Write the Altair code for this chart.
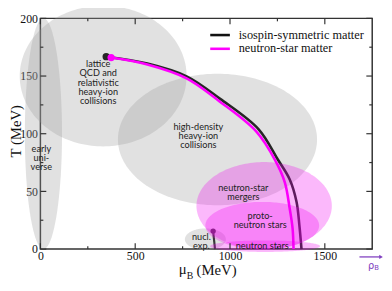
import numpy as np
import pandas as pd
import altair as alt

# ---------------- data ----------------
x_major = [0, 500, 1000, 1500]
x_minor = [250, 750, 1250]
y_major = [0, 50, 100, 150, 200]
y_minor = [25, 75, 125, 175]

# transition lines (mu_B in MeV, T in MeV)
iso_mu = [347, 564, 771, 950, 1150, 1253, 1315, 1351, 1366, 1377]
iso_T = [166.8, 160.9, 149.8, 130.0, 104.0, 77.4, 60.4, 40.9, 20.4, 0]
ns_mu = [373, 564, 771, 945, 1138, 1237, 1289, 1315, 1330, 1335]
ns_T = [166.0, 160.0, 148.0, 128.0, 102.0, 77.4, 57.9, 34.9, 17.9, 0]

crit_mu = [347, 373]
crit_T = [166.8, 166.0]

nucl_mu = [911, 921]
nucl_T = [15.6, 0]

# regions (ellipses): centre and half-axes in data units
gray_names = ["early", "lattice", "highdens", "nuclexp"]
gray_cx = [16, 331, 934, 870]
gray_cy = [100, 150, 95, 8.5]
gray_rx = [98, 440, 525, 108]
gray_ry = [100, 61, 57, 9.4]

pink_names = ["mergers", "proto", "nstars"]
pink_cx = [1180, 1170, 1185]
pink_cy = [37.4, 20.4, 2.5]
pink_rx = [357, 300, 290]
pink_ry = [38, 20.5, 5]

label_text = ["lattice\nQCD and\nrelativistic\nheavy-ion\ncollisions",
              "high-density\nheavy-ion\ncollisions",
              "early\nuni-\nverse",
              "neutron-star\nmergers",
              "proto-\nneutron stars",
              "neutron stars",
              "nucl.\nexp."]
label_mu = [305, 833, 5, 1070, 1159, 1170, 849]
label_T = [160.0, 105.5, 86.8, 52.8, 28.9, 2.6, 10.2]

legend_labels = ["isospin-symmetric matter", "neutron-star matter"]

# ---------------- helpers ----------------
W, H = 338, 235
xs = alt.Scale(domain=[0, 1750], nice=False, zero=False)
ys = alt.Scale(domain=[0, 200], nice=False, zero=False)
xax = alt.Axis(values=x_major, title=None, grid=False, domain=False, ticks=False,
               tickSize=0, labelPadding=2, labelFlush=False, format="d")
yax = alt.Axis(values=y_major, title=None, grid=False, domain=False, ticks=False,
               tickSize=0, labelPadding=3, format="d")


def X(f):
    return alt.X(f, type="quantitative", scale=xs, axis=xax)


def Y(f):
    return alt.Y(f, type="quantitative", scale=ys, axis=yax)


def ellipses(names, cx, cy, rx, ry):
    t = np.linspace(0, np.pi, 91)
    rows = []
    for n, a, b, c, d in zip(names, cx, cy, rx, ry):
        for tt in t:
            rows.append({"name": n, "x": a + c * np.cos(tt),
                         "lo": b - d * np.sin(tt), "hi": b + d * np.sin(tt)})
    return pd.DataFrame(rows)


gray_df = ellipses(gray_names, gray_cx, gray_cy, gray_rx, gray_ry)
pink_df = ellipses(pink_names, pink_cx, pink_cy, pink_rx, pink_ry)

gray = alt.Chart(gray_df).mark_area(color="#9a9a9a", opacity=0.3).encode(
    x=X("x"), y=Y("lo"), y2="hi", detail="name:N")
pink = alt.Chart(pink_df).mark_area(color="#f000f0", opacity=0.28).encode(
    x=X("x"), y=Y("lo"), y2="hi", detail="name:N")

iso = alt.Chart(pd.DataFrame({"x": iso_mu, "y": iso_T})).mark_line(
    color="#262626", strokeWidth=2.6, interpolate="catmull-rom").encode(x=X("x"), y=Y("y"))
ns = alt.Chart(pd.DataFrame({"x": ns_mu, "y": ns_T})).mark_line(
    color="#ff00ff", strokeWidth=2.6, interpolate="catmull-rom").encode(x=X("x"), y=Y("y"))

crit_black = alt.Chart(pd.DataFrame({"x": crit_mu[:1], "y": crit_T[:1]})).mark_point(
    filled=True, size=55, color="#262626", opacity=1).encode(x=X("x"), y=Y("y"))
crit_mag = alt.Chart(pd.DataFrame({"x": crit_mu[1:], "y": crit_T[1:]})).mark_point(
    filled=True, size=55, color="#ff00ff", opacity=1).encode(x=X("x"), y=Y("y"))

nucl_line = alt.Chart(pd.DataFrame({"x": nucl_mu, "y": nucl_T})).mark_line(
    color="#3a3a3a", strokeWidth=2.2).encode(x=X("x"), y=Y("y"))
nucl_pt = alt.Chart(pd.DataFrame({"x": nucl_mu[:1], "y": nucl_T[:1]})).mark_point(
    filled=True, size=30, color="#3a3a3a", opacity=1).encode(x=X("x"), y=Y("y"))

labels = alt.Chart(pd.DataFrame({"x": label_mu, "y": label_T, "t": label_text})).mark_text(
    font="Lato", fontSize=9.3, lineHeight=9.2, color="#222222", align="center",
    baseline="middle", lineBreak="\n").encode(x=X("x"), y=Y("y"), text="t:N")

# inward ticks on all four sides
tick_col = "#333333"
def xticks(vals, y0, y1):
    return alt.Chart(pd.DataFrame({"v": vals})).mark_rule(color=tick_col, strokeWidth=1.2).encode(
        x=X("v"), y=alt.value(y0), y2=alt.value(y1))

def yticks(vals, x0, x1):
    return alt.Chart(pd.DataFrame({"v": vals})).mark_rule(color=tick_col, strokeWidth=1.2).encode(
        y=Y("v"), x=alt.value(x0), x2=alt.value(x1))

ticks = [xticks(x_major, H, H - 6), xticks(x_minor, H, H - 3),
         xticks(x_major, 0, 6), xticks(x_minor, 0, 3),
         yticks(y_major, 0, 6), yticks(y_minor, 0, 3),
         yticks(y_major, W, W - 6), yticks(y_minor, W, W - 3)]

one = pd.DataFrame({"a": [0]})
serif = "Liberation Serif"

leg1_line = alt.Chart(one).mark_rule(color="#111111", strokeWidth=2.6).encode(
    x=alt.value(173), x2=alt.value(193), y=alt.value(17))
leg2_line = alt.Chart(one).mark_rule(color="#ff00ff", strokeWidth=2.6).encode(
    x=alt.value(173), x2=alt.value(193), y=alt.value(31))
leg1_txt = alt.Chart(one).mark_text(font=serif, fontSize=12.5, align="left", baseline="middle",
                                    color="#111111", text=legend_labels[0]).encode(
    x=alt.value(202), y=alt.value(17))
leg2_txt = alt.Chart(one).mark_text(font=serif, fontSize=12.5, align="left", baseline="middle",
                                    color="#111111", text=legend_labels[1]).encode(
    x=alt.value(202), y=alt.value(30))

# axis titles
ytitle = alt.Chart(one).mark_text(font=serif, fontSize=15, angle=270, align="center",
                                  baseline="middle", color="#111111", text="T (MeV)").encode(
    x=alt.value(-25), y=alt.value(115))
xt_mu = alt.Chart(one).mark_text(font=serif, fontSize=15, align="right", baseline="alphabetic",
                                 color="#111111", text="μ").encode(x=alt.value(149), y=alt.value(260))
xt_b = alt.Chart(one).mark_text(font=serif, fontSize=10, align="left", baseline="alphabetic",
                                color="#111111", text="B").encode(x=alt.value(149), y=alt.value(265))
xt_mev = alt.Chart(one).mark_text(font=serif, fontSize=15, align="left", baseline="alphabetic",
                                  color="#111111", text="(MeV)").encode(x=alt.value(159), y=alt.value(261))

# rho_B arrow
purple = "#8040c0"
arrow = alt.Chart(one).mark_rule(color=purple, strokeWidth=1.3).encode(
    x=alt.value(325), x2=alt.value(347), y=alt.value(243))
arrow_head = alt.Chart(one).mark_point(shape="triangle-right", filled=True, size=18,
                                       color=purple, opacity=1).encode(
    x=alt.value(347), y=alt.value(243))
rho = alt.Chart(one).mark_text(font="DejaVu Sans", fontSize=10, align="right", baseline="alphabetic",
                               color=purple, text="ρ").encode(x=alt.value(340), y=alt.value(255))
rho_b = alt.Chart(one).mark_text(font="DejaVu Sans", fontSize=7, align="left", baseline="alphabetic",
                                 color=purple, text="B").encode(x=alt.value(340), y=alt.value(256))

chart = alt.layer(
    gray, iso, ns, crit_black, crit_mag, nucl_line, nucl_pt, pink, labels,
    *ticks, leg1_line, leg2_line, leg1_txt, leg2_txt,
    ytitle, xt_mu, xt_b, xt_mev, arrow, arrow_head, rho, rho_b
).properties(
    width=W, height=H,
    autosize=alt.AutoSizeParams(type="none"),
    padding={"left": 33, "top": 8, "right": 12, "bottom": 32},
).configure_view(stroke="#333333", strokeWidth=1.5).configure_axis(
    labelFont=serif, labelFontSize=12, labelColor="#111111"
)

chart.save("out.html", embed_options={"renderer": "svg", "actions": False})
